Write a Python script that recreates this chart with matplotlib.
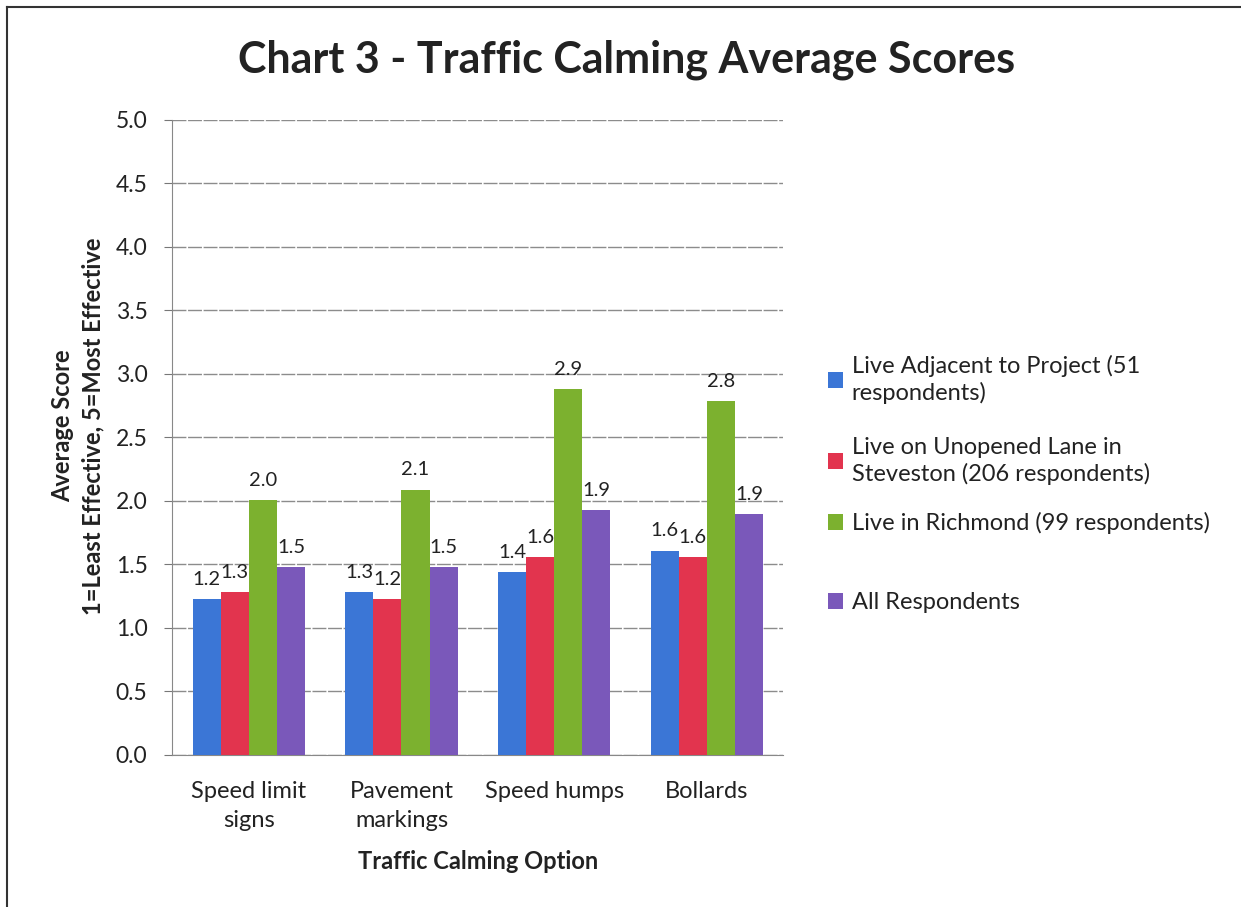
import matplotlib
matplotlib.use("Agg")
import matplotlib.pyplot as plt
import numpy as np
from matplotlib.lines import Line2D
from matplotlib.patches import Patch

categories = ["Speed limit\nsigns", "Pavement\nmarkings", "Speed humps", "Bollards"]
series_names = ["Live Adjacent to Project (51\nrespondents)",
                "Live on Unopened Lane in\nSteveston (206 respondents)",
                "Live in Richmond (99 respondents)",
                "All Respondents"]
adjacent = [1.23, 1.28, 1.44, 1.61]
unopened = [1.28, 1.23, 1.56, 1.56]
richmond = [2.01, 2.09, 2.88, 2.79]
all_resp = [1.48, 1.48, 1.93, 1.90]
colors = ["#3B76D6", "#E2344E", "#7CB12F", "#7A58BA"]
yticks = [0.0, 0.5, 1.0, 1.5, 2.0, 2.5, 3.0, 3.5, 4.0, 4.5, 5.0]

plt.rcParams['font.family'] = ['Lato', 'DejaVu Sans']
txt = "#222222"

fig = plt.figure(figsize=(12.41, 9.07), dpi=100)
ax = fig.add_axes([0.139, 0.1676, 0.492, 0.7001])

series = [adjacent, unopened, richmond, all_resp]
x = np.arange(len(categories))
bw = 0.184
for i, (vals, c) in enumerate(zip(series, colors)):
    pos = x + (i - 1.5) * bw
    bars = ax.bar(pos, vals, width=bw, color=c, zorder=3)
    for b, v in zip(bars, vals):
        ax.annotate(f"{v:.1f}", (b.get_x() + b.get_width() / 2, v),
                    xytext=(0, 8), textcoords="offset points",
                    ha="center", va="bottom", fontsize=14.5, color=txt)

ax.set_xlim(-0.5, 3.5)
ax.set_ylim(0, 5)
ax.set_yticks(yticks)
ax.set_yticklabels([f"{t:.1f}" for t in yticks], fontsize=16.5, color=txt)
ax.set_xticks(x)
ax.set_xticklabels(categories, fontsize=17, color=txt, linespacing=1.45)
ax.tick_params(axis='x', length=0, pad=19)
ax.tick_params(axis='y', length=6, width=0.8, color="#777777", pad=12)
ax.yaxis.grid(True, color="#8c8c8c", linewidth=1.0, linestyle=(0, (10, 1.2)), zorder=0)
for s in ["top", "right"]:
    ax.spines[s].set_visible(False)
ax.spines["left"].set_color("#888888")
ax.spines["bottom"].set_color("#888888")

ax.set_xlabel("Traffic Calming Option", fontsize=17, fontweight="bold", color=txt)
ax.xaxis.set_label_coords(0.5, -0.1685)
ax.xaxis.label.set_va("center")

fig.text(78 / 1241, 1 - 426 / 907, "Average Score\n1=Least Effective, 5=Most Effective",
         rotation=90, ha="center", va="center", fontsize=17, fontweight="bold",
         color=txt, linespacing=1.4)

fig.text(0.505, 0.934, "Chart 3 - Traffic Calming Average Scores", ha="center", va="center",
         fontsize=31, fontweight="bold", color=txt)

legend_y = [0.5816, 0.4917, 0.4234, 0.3352]
for name, c, yy in zip(series_names, colors, legend_y):
    leg = fig.legend(handles=[Patch(facecolor=c)], labels=[name], loc="center left",
                     bbox_to_anchor=(828 / 1241, yy), frameon=False, fontsize=17,
                     handlelength=0.65, handleheight=0.65, handletextpad=0.35,
                     borderpad=0, borderaxespad=0, labelcolor=txt)
    for t in leg.get_texts():
        t.set_linespacing(1.3)

# outer frame (top and left edges)
fig.add_artist(Line2D([0.006, 0.006], [0.0, 0.992], transform=fig.transFigure,
                      color="#333333", linewidth=1.5))
fig.add_artist(Line2D([0.006, 1.0], [0.992, 0.992], transform=fig.transFigure,
                      color="#333333", linewidth=1.5))

fig.savefig("out.png", dpi=100)
